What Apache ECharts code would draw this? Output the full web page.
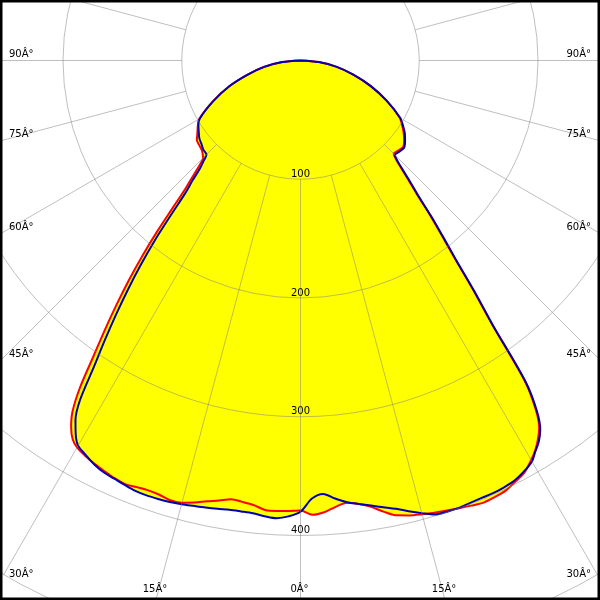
<!DOCTYPE html>
<html><head><meta charset="utf-8">
<script src="https://cdn.jsdelivr.net/npm/echarts@6/dist/echarts.min.js"></script>
<style>html,body{margin:0;padding:0;background:#fff}#c{width:600px;height:600px}</style>
</head><body><div id="c"></div><script>
// gamma angles (degrees from nadir)
const angles = [0,1.5,3,4.5,6,7.5,9,10.5,12,13.5,15,16.5,18,19.5,21,22.5,24,25.5,27,28.5,30,31,32,33,34,35,36,37,38,39,40,41,42,43,44,45,47.5,50,52.5,55,57.5,60,65,70,75,80,85,90];
// intensity values (cd/klm), right half (C0 / C90) and left half (C180 / C270)
const blueRight = [379,369,365.5,370,374,376.7,379.5,382.6,386,390.3,394.6,398.8,399.5,399.7,399,398.7,398.8,398.2,397,394,389.9,384,378.6,370.7,356,331,276,243,212,190,171,152,139,127,117.5,112.5,113.3,114,111,107.3,102.4,97.2,80,63,46,31,15.5,0];
const redRight  = [380,382.7,381,377,374.5,376.7,380.6,386.6,391.6,394,395.6,397.1,398.5,400,401.5,403,402.4,401.3,398.2,395,388.5,383.5,377,369,354,329,274,241,210,188,169,150,137,125,116,111,112,113,110,106,101.5,96.5,80,63,46,31,15.5,0];
const blueLeft  = [380,384,385.9,384.9,383.4,383,383,383.9,384.8,385.7,386.8,387.7,388.2,388.5,388.2,386.9,385.5,384.4,382,378.4,374.5,367.5,357.6,340.9,311,287,264,241.4,218.6,195,169.3,147.7,135.8,124,117.3,112,111,109,107.4,104.6,101.9,98,81,64,46,31,15.5,0];
const redLeft   = [379,379.4,379.8,379.7,376.5,374.9,374.1,376.8,379.5,382.7,385.6,386.2,384.5,384,384.8,386.1,385,383.3,381.5,379.2,376.3,372.4,364.5,352.6,331.9,303.8,280.1,257.2,234.6,211.5,187.3,162.8,144.1,132.3,122,116,112.5,111.2,110,106,102.5,98.5,81.5,64.5,46.5,31.5,16,0];
const radiusTicks = [100,200,300,400];
const radiusTickLabels = ['100','200','300','400'];
const angleTicks = [90,75,60,45,30,15,0];
const angleTickLabels = ['90Â°','75Â°','60Â°','45Â°','30Â°','15Â°','0Â°'];

const CX = 300.5, CY = 60.5, UNIT = 1.1875, RMAX = 500, W = 600, H = 600;
const FONT = '10px "DejaVu Sans"';

function build(left, right) {
  const d = [];
  for (let i = angles.length - 1; i >= 0; i--) d.push([left[i], -angles[i]]);
  for (let i = 1; i < angles.length; i++) d.push([right[i], angles[i]]);
  return d;
}
const redData = build(redLeft, redRight);
const blueData = build(blueLeft, blueRight);

const graphics = [];
radiusTicks.forEach((v, i) => {
  graphics.push({type:'text', z:20, style:{text:radiusTickLabels[i], x:CX, y:CY + v*UNIT - 5, font:FONT, fill:'#000', textAlign:'center', textVerticalAlign:'middle'}});
});
angleTicks.forEach((a, i) => {
  const t = a * Math.PI / 180;
  const yExit = a === 0 ? Infinity : CY + CX / Math.tan(t);
  if (yExit <= H) {
    graphics.push({type:'text', z:20, style:{text:angleTickLabels[i], x:9, y:yExit - 6.5, font:FONT, fill:'#000', textAlign:'left', textVerticalAlign:'middle'}});
    graphics.push({type:'text', z:20, style:{text:angleTickLabels[i], x:W-9, y:yExit - 6.5, font:FONT, fill:'#000', textAlign:'right', textVerticalAlign:'middle'}});
  } else {
    const dx = (H - CY) * Math.tan(t);
    const xs = a === 0 ? [CX] : [CX - dx, CX + dx];
    xs.forEach(x => graphics.push({type:'text', z:20, style:{text:angleTickLabels[i], x:x - 1, y:589, font:FONT, fill:'#000', textAlign:'center', textVerticalAlign:'middle'}}));
  }
});
graphics.push({type:'rect', z:30, shape:{x:0,y:0,width:W,height:H}, style:{fill:'none', stroke:'#000', lineWidth:5}});

const gridColor = 'rgba(128,128,128,0.5)';
const chart = echarts.init(document.getElementById('c'), null, {renderer:'canvas'});
chart.setOption({
  animation: false,
  backgroundColor: '#fff',
  polar: [
    {center:[CX, CY], radius:[100*UNIT, RMAX*UNIT]},
    {center:[CX, CY], radius:RMAX*UNIT}
  ],
  angleAxis: [
    {polarIndex:0, type:'value', min:-180, max:180, interval:15, startAngle:90, clockwise:false, z:10,
     axisLine:{show:false}, axisTick:{show:false}, axisLabel:{show:false},
     splitLine:{show:true, lineStyle:{color:gridColor, width:1}}},
    {polarIndex:1, type:'value', min:-180, max:180, interval:15, startAngle:90, clockwise:false,
     axisLine:{show:false}, axisTick:{show:false}, axisLabel:{show:false}, splitLine:{show:false}}
  ],
  radiusAxis: [
    {polarIndex:0, type:'value', min:100, max:RMAX, interval:100, z:10,
     axisLine:{show:false}, axisTick:{show:false}, axisLabel:{show:false},
     splitLine:{show:true, lineStyle:{color:gridColor, width:1}}},
    {polarIndex:1, type:'value', min:0, max:RMAX,
     axisLine:{show:false}, axisTick:{show:false}, axisLabel:{show:false}, splitLine:{show:false}}
  ],
  series: [
    {type:'line', coordinateSystem:'polar', polarIndex:1, data:redData, symbol:'none', smooth:0.3, z:1,
     lineStyle:{width:0, opacity:0}, areaStyle:{color:'#ffff00', opacity:1}},
    {type:'line', coordinateSystem:'polar', polarIndex:1, data:blueData, symbol:'none', smooth:0.3, z:1,
     lineStyle:{width:0, opacity:0}, areaStyle:{color:'#ffff00', opacity:1}},
    {type:'line', coordinateSystem:'polar', polarIndex:1, data:redData, symbol:'none', smooth:0.3, z:5,
     lineStyle:{width:2, color:'#ff0000'}},
    {type:'line', coordinateSystem:'polar', polarIndex:1, data:blueData, symbol:'none', smooth:0.3, z:6,
     lineStyle:{width:2, color:'#0000b0'}}
  ],
  graphic: graphics
});
</script></body></html>
